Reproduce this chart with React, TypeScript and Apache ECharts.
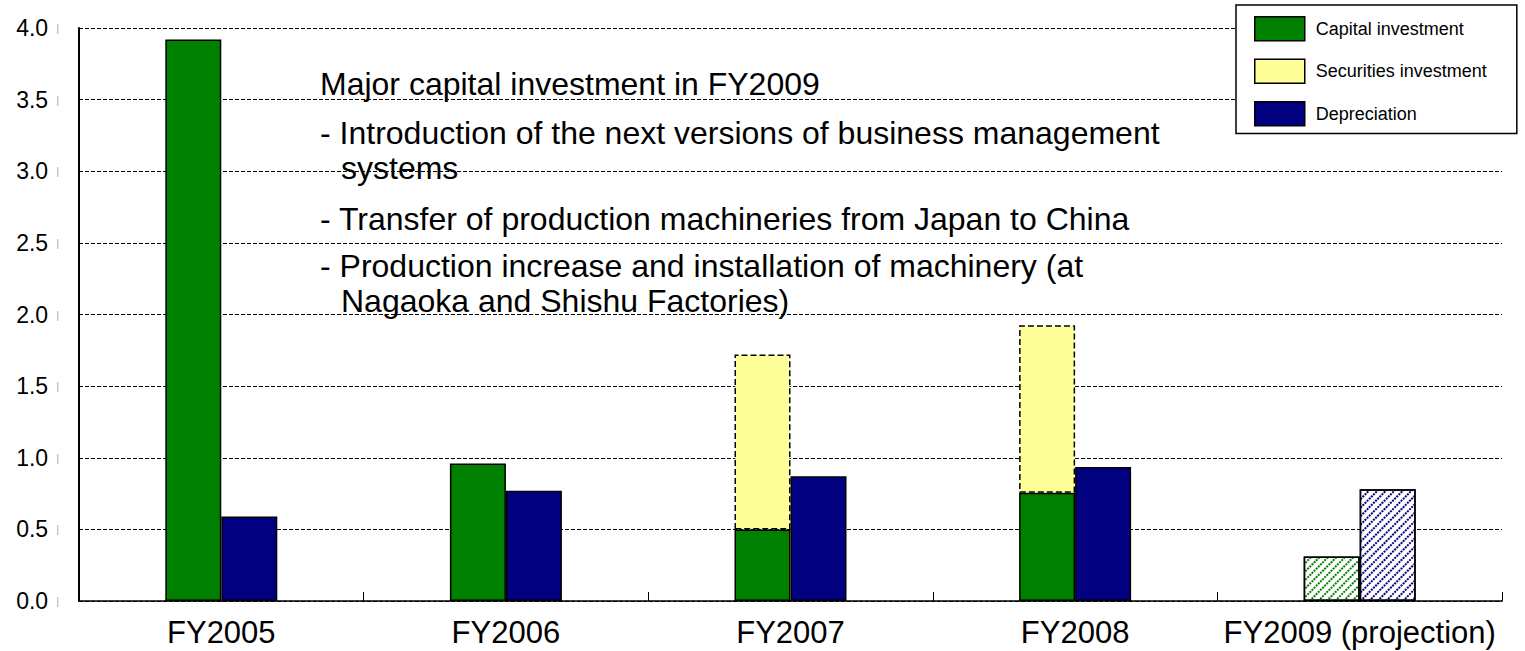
import React, { useEffect, useRef } from "react";
import * as echarts from "echarts";

const categories = ["FY2005", "FY2006", "FY2007", "FY2008", "FY2009 (projection)"];
const capitalInvestment = [3.92, 0.96, 0.5, 0.755, 0.31];
const securitiesInvestment: (number | null)[] = [null, null, 1.22, 1.17, null];
const depreciation = [0.59, 0.77, 0.87, 0.935, 0.78];
const isProjection = [false, false, false, false, true];

const yTicks = { min: 0, max: 4, interval: 0.5 };

const noteTitle = "Major capital investment in FY2009";
const noteLines = [
  "- Introduction of the next versions of business management",
  "  systems",
  "- Transfer of production machineries from Japan to China",
  "- Production increase and installation of machinery (at",
  "  Nagaoka and Shishu Factories)",
];

const FONT = "'Liberation Sans', Arial, Helvetica, sans-serif";
const GREEN = "#008000";
const NAVY = "#000080";
const YELLOW = "#FFFF99";

function hatch(color: string) {
  return {
    color: "#ffffff",
    borderColor: "#000",
    borderWidth: 1.5,
    decal: {
      symbol: "rect",
      symbolSize: 1,
      color,
      backgroundColor: "#ffffff",
      dashArrayX: [2, 1],
      dashArrayY: [1.5, 3.5],
      rotation: -Math.PI / 4,
    },
  };
}

export default function App() {
  const ref = useRef<HTMLDivElement>(null);
  useEffect(() => {
    if (!ref.current) return;
    const chart = echarts.init(ref.current, undefined, { renderer: "svg" });

    const capData = capitalInvestment.map((v, i) =>
      isProjection[i] ? { value: v, itemStyle: hatch(GREEN) } : v
    );
    const depData = depreciation.map((v, i) =>
      isProjection[i] ? { value: v, itemStyle: hatch(NAVY) } : v
    );
    const secData = securitiesInvestment.map((v) => (v == null ? "-" : v));

    const noteYs = [84, 133, 168, 219, 266, 301];
    const noteXs = [320, 320, 341, 320, 320, 341];
    const allNotes = [noteTitle, ...noteLines.map((s) => s.trim())];

    const legendItem = (name: string, color: string) => ({
      name,
      icon: "rect",
      itemStyle: { color, borderColor: "#000", borderWidth: 1.5, borderType: "solid" },
    });

    chart.setOption({
      animation: false,
      backgroundColor: "#ffffff",
      textStyle: { fontFamily: FONT },
      grid: { left: 79, right: 23, top: 28, bottom: 50, containLabel: false },
      legend: {
        orient: "vertical",
        left: 1236,
        top: 5,
        padding: [11, 30, 7, 18],
        itemWidth: 50,
        itemHeight: 24,
        itemGap: 17,
        icon: "rect",
        backgroundColor: "#ffffff",
        borderColor: "#000",
        borderWidth: 1.5,
        textStyle: { fontSize: 18, color: "#000", fontFamily: FONT, padding: [0, 0, 0, 6] },
        data: [
          legendItem("Capital investment", GREEN),
          legendItem("Securities investment", YELLOW),
          legendItem("Depreciation", NAVY),
        ],
      },
      xAxis: {
        type: "category",
        data: categories,
        axisLine: { lineStyle: { color: "#000", width: 1.5 } },
        axisTick: { show: true, inside: true, length: 9, interval: 0, lineStyle: { color: "#000", width: 1 } },
        axisLabel: { fontSize: 31, color: "#000", margin: 16, interval: 0, fontFamily: FONT },
        splitLine: { show: false },
      },
      yAxis: {
        type: "value",
        min: yTicks.min,
        max: yTicks.max,
        interval: yTicks.interval,
        axisLine: { show: true, lineStyle: { color: "#000", width: 2 } },
        axisTick: { show: false },
        axisLabel: {
          margin: 20,
          formatter: (v: number) => `{v|${v.toFixed(1)}}{t||}`,
          rich: {
            v: { fontSize: 23, color: "#000", fontFamily: FONT },
            t: { fontSize: 11, color: "#aaaaaa", padding: [0, 0, 0, 8], fontFamily: FONT },
          },
        },
        splitLine: { show: true, lineStyle: { color: "#000", width: 1, type: [4, 2] } },
      },
      series: [
        {
          name: "Capital investment",
          type: "bar",
          stack: "inv",
          barWidth: 56,
          barGap: "0%",
          itemStyle: { color: GREEN, borderColor: "#000", borderWidth: 1.5 },
          data: capData,
        },
        {
          name: "Securities investment",
          type: "bar",
          stack: "inv",
          barWidth: 56,
          barGap: "0%",
          itemStyle: { color: YELLOW, borderColor: "#000", borderWidth: 1.5, borderType: [6, 3] },
          data: secData,
        },
        {
          name: "Depreciation",
          type: "bar",
          barWidth: 56,
          barGap: "0%",
          itemStyle: { color: NAVY, borderColor: "#000", borderWidth: 1.5 },
          data: depData,
        },
      ],
      graphic: allNotes.map((t, i) => ({
        type: "text",
        x: noteXs[i],
        y: noteYs[i],
        silent: true,
        style: {
          text: t,
          fontSize: 32,
          fontFamily: FONT,
          fill: "#000",
          verticalAlign: "middle",
        },
        z: 100,
      })),
    });
    return () => chart.dispose();
  }, []);
  return (
    <div
      ref={ref}
      style={{ position: "fixed", left: 0, top: 0, width: 1525, height: 651, background: "#fff" }}
    />
  );
}
